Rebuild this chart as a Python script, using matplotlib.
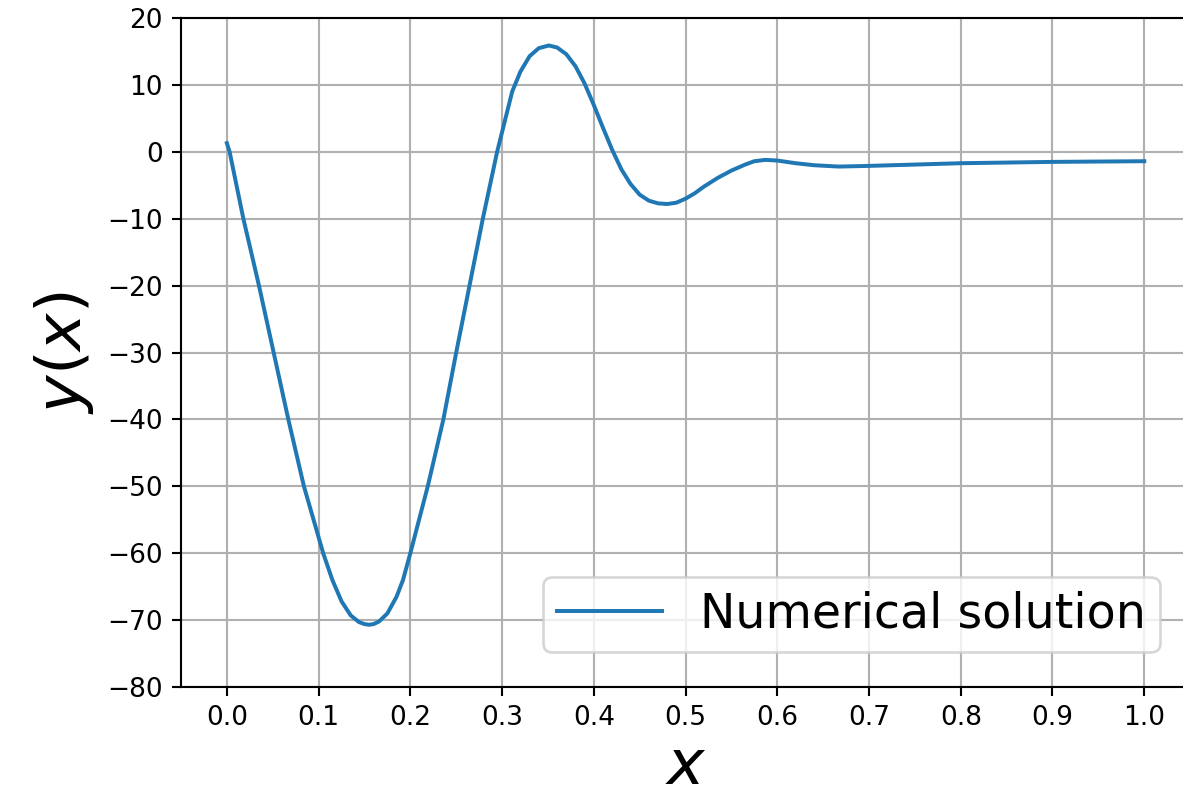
import matplotlib
matplotlib.use("Agg")
import matplotlib.pyplot as plt

# values
x = [0.000, 0.003, 0.018, 0.035, 0.051, 0.067, 0.084, 0.105, 0.115, 0.125,
     0.135, 0.144, 0.150, 0.155, 0.160, 0.166, 0.175, 0.185, 0.192, 0.200,
     0.219, 0.236, 0.250, 0.2645, 0.279, 0.2946, 0.311, 0.320, 0.330, 0.340,
     0.351, 0.360, 0.370, 0.380, 0.390, 0.400, 0.410, 0.420, 0.430, 0.440,
     0.450, 0.460, 0.470, 0.480, 0.490, 0.500, 0.510, 0.520, 0.535, 0.550,
     0.565, 0.575, 0.587, 0.600, 0.620, 0.640, 0.667, 0.700, 0.750, 0.800,
     0.900, 1.000]
y = [1.3, 0.0, -10.0, -20.0, -30.0, -40.0, -50.0, -60.0, -64.0, -67.2,
     -69.3, -70.3, -70.6, -70.7, -70.6, -70.2, -69.0, -66.5, -64.0, -60.0,
     -50.0, -40.0, -30.0, -20.0, -10.0, 0.0, 9.0, 12.0, 14.3, 15.5,
     15.9, 15.6, 14.6, 12.8, 10.2, 7.0, 3.6, 0.3, -2.6, -4.8,
     -6.4, -7.3, -7.7, -7.8, -7.6, -7.0, -6.2, -5.2, -3.9, -2.8,
     -1.9, -1.4, -1.2, -1.3, -1.7, -2.0, -2.2, -2.1, -1.9, -1.7,
     -1.5, -1.4]

xticks = [0.0, 0.1, 0.2, 0.3, 0.4, 0.5, 0.6, 0.7, 0.8, 0.9, 1.0]
yticks = [-80, -70, -60, -50, -40, -30, -20, -10, 0, 10, 20]

fig = plt.figure(figsize=(1183 / 190, 803 / 190), dpi=190)
ax = fig.add_axes([0.153, 0.1445, 0.853, 0.833])

ax.plot(x, y, label='Numerical solution')
ax.set_xlim(-0.05, 1.05)
ax.set_ylim(-80, 20)
ax.set_xticks(xticks)
ax.set_yticks(yticks)
ax.grid(True)
ax.set_xlabel('$x$', fontsize=24, labelpad=2)
ax.set_ylabel('$y(x)$', fontsize=24)
ax.legend(loc='lower right', fontsize=18, bbox_to_anchor=(0.970, 0.052),
          borderaxespad=0, borderpad=0.3, handlelength=2.2)

fig.savefig('out.png', dpi=190)
